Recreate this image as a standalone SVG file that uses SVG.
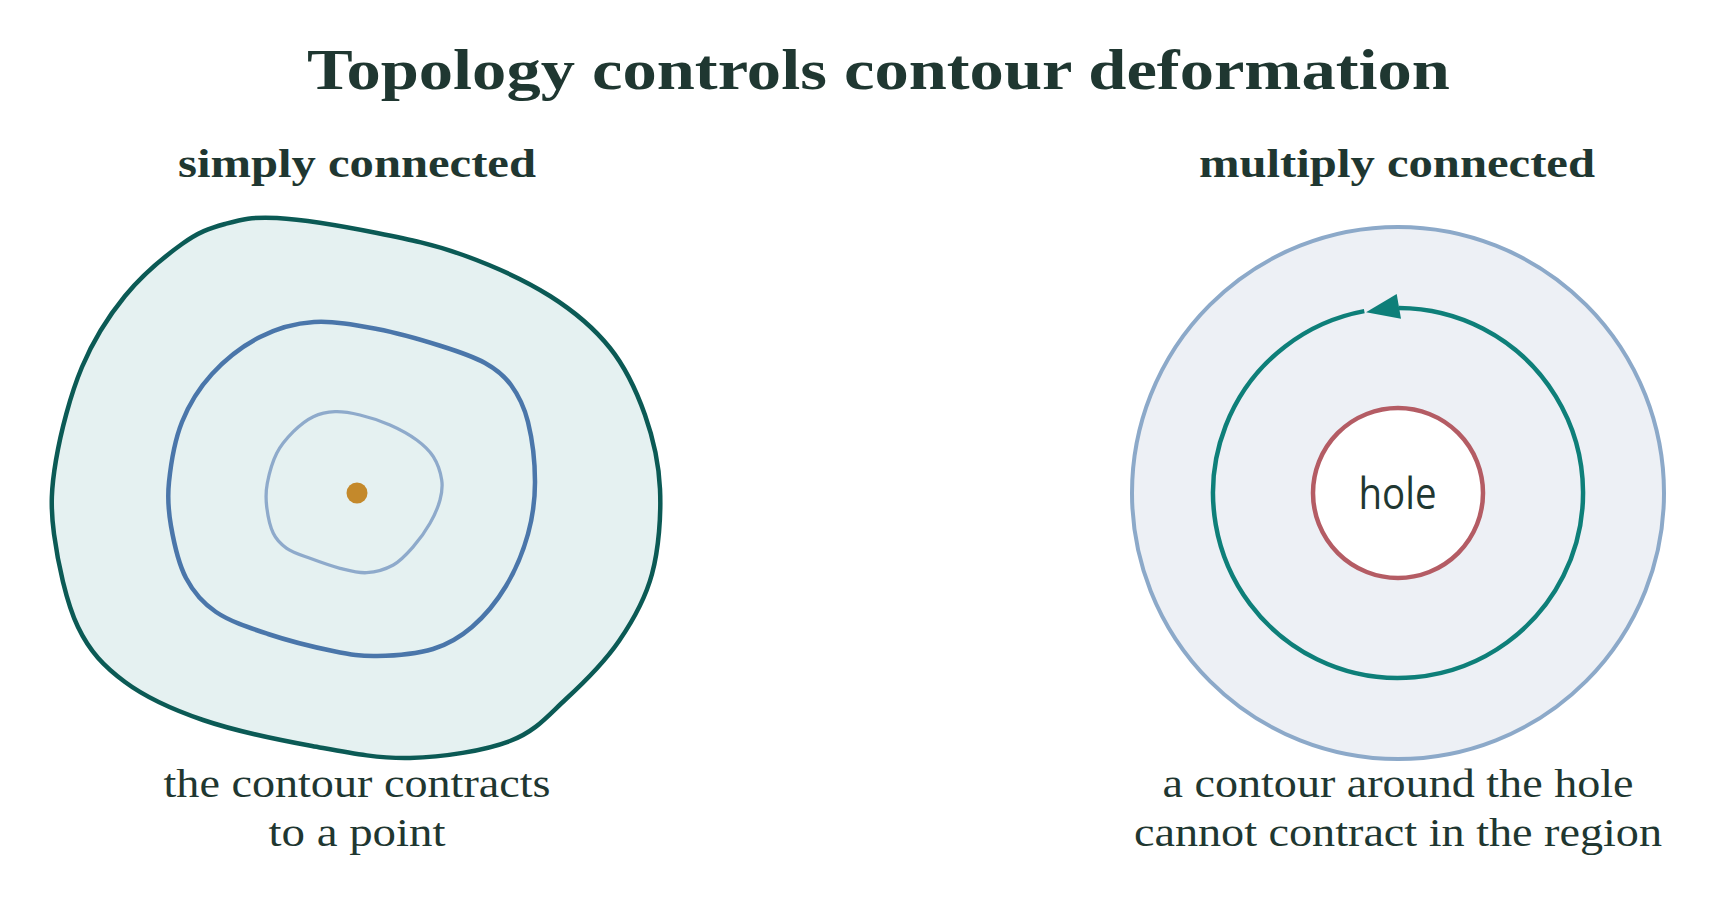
<svg xmlns="http://www.w3.org/2000/svg" width="1709" height="903" viewBox="0 0 1709 903">
<style>
.title{font-family:"Liberation Serif",serif;font-weight:bold;font-size:58px;fill:#1f3731}
.sub{font-family:"Liberation Serif",serif;font-weight:bold;font-size:40px;fill:#1f3731}
.cap{font-family:"Liberation Serif",serif;font-size:40px;fill:#1f3731}
.hole{font-family:"Open Sans","Noto Sans",sans-serif;font-size:44px;fill:#1f3731}
</style>
<rect width="1709" height="903" fill="#ffffff"/>
<g id="title"><text class="title" x="878.5" y="89" text-anchor="middle" textLength="1143" lengthAdjust="spacingAndGlyphs">Topology controls contour deformation</text></g>
<g id="left-panel">
<text class="sub" x="357" y="177" text-anchor="middle" textLength="358" lengthAdjust="spacingAndGlyphs">simply connected</text>
<g id="outer-contour"><path fill="#e5f1f1" stroke="#0b5a55" stroke-width="4.5" d="M277,218 C302.3,219.5 346,226.8 377,233 C408,239.2 434.2,244.5 463,255 C491.8,265.5 525.5,280.5 550,296 C574.5,311.5 594.2,328.2 610,348 C625.8,367.8 636.7,391.5 645,415 C653.3,438.5 658.8,462.5 660,489 C661.2,515.5 658.8,548.7 652,574 C645.2,599.3 633.3,620.2 619,641 C604.7,661.8 584.2,682.3 566,699 C547.8,715.7 536,731.2 510,741 C484,750.8 443,757.2 410,758 C377,758.8 346.5,752.3 312,746 C277.5,739.7 234.2,730.7 203,720 C171.8,709.3 145.8,697.5 125,682 C104.2,666.5 89.8,651.7 78,627 C66.2,602.3 57.7,561.8 54,534 C50.3,506.2 51.3,487.8 56,460 C60.7,432.2 70.5,394.3 82,367 C93.5,339.7 108.3,316.5 125,296 C141.7,275.5 165.3,256 182,244 C198.7,232 209.2,228.3 225,224 C240.8,219.7 251.7,216.5 277,218 Z"/></g>
<g id="middle-contour"><path fill="none" stroke="#4a76aa" stroke-width="4.5" d="M314,322 C333.5,320.7 355.8,325 377,329 C398.2,333 423,340.3 441,346 C459,351.7 473.3,356.5 485,363 C496.7,369.5 503.8,375.2 511,385 C518.2,394.8 524,405.8 528,422 C532,438.2 535,463.3 535,482 C535,500.7 532.8,516.7 528,534 C523.2,551.3 515.3,570.5 506,586 C496.7,601.5 484.2,616.5 472,627 C459.8,637.5 448.8,644.2 433,649 C417.2,653.8 393.7,655.7 377,656 C360.3,656.3 351.2,654.7 333,651 C314.8,647.3 287.5,640.5 268,634 C248.5,627.5 229.7,621.3 216,612 C202.3,602.7 193.5,592.3 186,578 C178.5,563.7 173.8,542 171,526 C168.2,510 167.2,499.3 169,482 C170.8,464.7 174.8,440 182,422 C189.2,404 199,388.2 212,374 C225,359.8 243,345.7 260,337 C277,328.3 294.5,323.3 314,322 Z"/></g>
<g id="inner-contour"><path fill="none" stroke="#8eaacb" stroke-width="3.3" d="M335,411.7 C342.8,411.4 350.8,412.8 360,415 C369.2,417.2 380.55,420.8 390,425 C399.45,429.2 409.5,434.7 416.7,440 C423.9,445.3 429.1,450 433.3,456.7 C437.5,463.4 440.6,472.8 441.7,480 C442.8,487.2 441.95,492.8 440,500 C438.05,507.2 434.45,515.5 430,523.3 C425.55,531.1 419.4,539.75 413.3,546.7 C407.2,553.65 401.1,560.7 393.3,565 C385.5,569.3 375.6,572.15 366.7,572.7 C357.8,573.25 349.45,570.7 340,568.3 C330.55,565.9 318.9,561.6 310,558.3 C301.1,555 292.8,552.5 286.7,548.3 C280.6,544.1 276.6,540.2 273.3,533.3 C270,526.4 267.7,515 266.7,506.7 C265.7,498.4 265.6,492.2 267.3,483.3 C269,474.4 272.4,461.9 276.7,453.3 C281,444.7 287.2,437.8 293.3,431.7 C299.4,425.6 306.35,420 313.3,416.7 C320.25,413.4 327.2,412 335,411.7 Z"/></g>
<g id="point"><circle cx="357" cy="493" r="10.5" fill="#c4892b"/></g>
<text class="cap" x="357" y="797" text-anchor="middle" textLength="387" lengthAdjust="spacingAndGlyphs">the contour contracts</text>
<text class="cap" x="357" y="846" text-anchor="middle" textLength="177" lengthAdjust="spacingAndGlyphs">to a point</text>
</g>
<g id="right-panel">
<text class="sub" x="1397" y="177" text-anchor="middle" textLength="396" lengthAdjust="spacingAndGlyphs">multiply connected</text>
<g id="region"><circle cx="1398" cy="493" r="266" fill="#edf0f5" stroke="#8ca9c9" stroke-width="4"/></g>
<g id="hole-node"><circle cx="1398" cy="493" r="85" fill="#ffffff" stroke="#b45c64" stroke-width="4.5"/>
<text class="hole" x="1397.5" y="509" text-anchor="middle" textLength="78" lengthAdjust="spacingAndGlyphs">hole</text></g>
<g id="connectors">
<path d="M1364.3,311.1 A185,185 0 1 0 1399,308" fill="none" stroke="#0e7f79" stroke-width="4.5"/>
<polygon points="1366,312.3 1396.7,294 1401,318.7" fill="#0e7f79"/>
</g>
<text class="cap" x="1398" y="797" text-anchor="middle" textLength="471" lengthAdjust="spacingAndGlyphs">a contour around the hole</text>
<text class="cap" x="1398" y="846" text-anchor="middle" textLength="528" lengthAdjust="spacingAndGlyphs">cannot contract in the region</text>
</g>
</svg>
